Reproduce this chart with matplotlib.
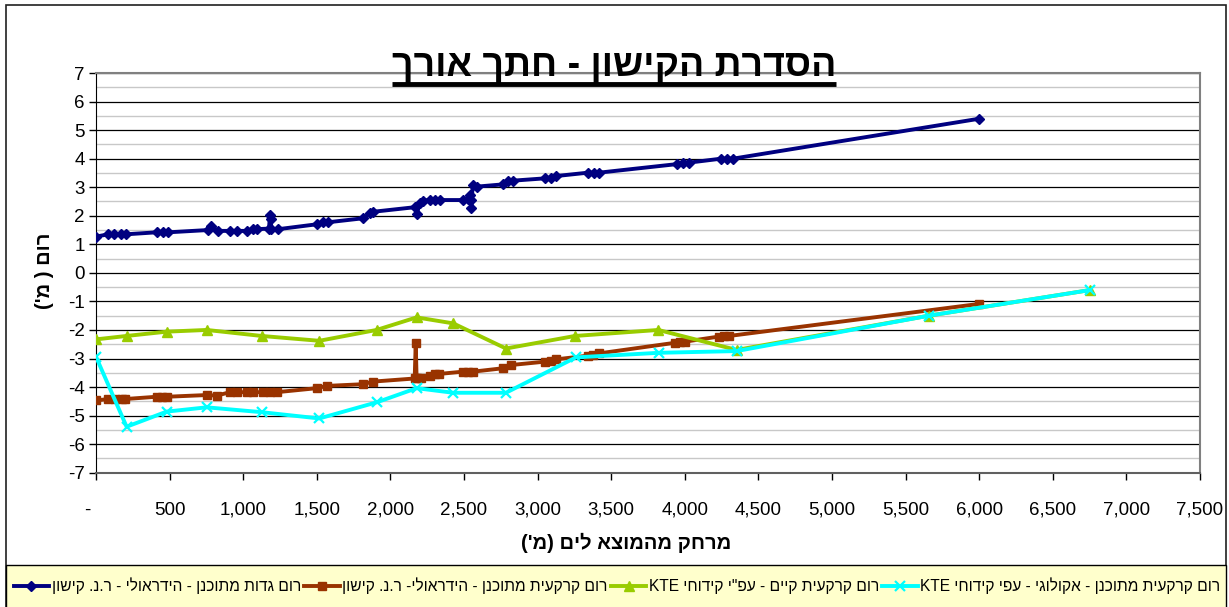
import re
import matplotlib
matplotlib.use('Agg')
import matplotlib.pyplot as plt
import matplotlib.transforms as mtransforms
from matplotlib.lines import Line2D
from matplotlib.patches import Rectangle
from matplotlib.ticker import FixedLocator, FixedFormatter, MultipleLocator

plt.rcParams['font.family'] = ['Liberation Sans Narrow', 'Liberation Sans', 'DejaVu Sans']

# --- data (distance from river mouth [m], elevation [m]) ---
banks_x = [0, 84, 125, 168, 204, 412, 453, 491, 763, 780, 831, 910, 956, 1024, 1069, 1092,
           1175, 1182, 1186, 1192, 1238, 1499, 1544, 1574, 1812, 1861, 1884, 2167, 2178, 2201,
           2219, 2269, 2303, 2337, 2495, 2529, 2544, 2547, 2550, 2559, 2586, 2767, 2801, 2835,
           3050, 3089, 3125, 3344, 3385, 3419, 3949, 3991, 4027, 4248, 4286, 4328, 6002]
banks_y = [1.27, 1.35, 1.35, 1.35, 1.35, 1.42, 1.42, 1.42, 1.50, 1.64, 1.47, 1.47, 1.47, 1.47, 1.53, 1.53,
           1.55, 2.02, 1.88, 1.55, 1.53, 1.70, 1.77, 1.77, 1.91, 2.08, 2.14, 2.30, 2.05, 2.44,
           2.53, 2.55, 2.55, 2.55, 2.55, 2.57, 2.73, 2.55, 2.26, 3.08, 3.02, 3.10, 3.22, 3.23,
           3.31, 3.31, 3.39, 3.51, 3.51, 3.51, 3.81, 3.86, 3.86, 4.00, 4.00, 4.00, 5.40]

hyd_bed_x = [0, 84, 129, 174, 197, 412, 446, 480, 752, 820, 910, 956, 1024, 1069, 1137, 1182,
             1228, 1499, 1567, 1816, 1879, 2165, 2172, 2178, 2205, 2269, 2303, 2332, 2495, 2529,
             2563, 2767, 2817, 3050, 3089, 3125, 3344, 3378, 3419, 3933, 3967, 4001, 4234, 4268,
             4302, 5997]
hyd_bed_y = [-4.47, -4.42, -4.42, -4.42, -4.42, -4.34, -4.34, -4.34, -4.28, -4.30, -4.18, -4.18,
             -4.18, -4.18, -4.18, -4.18, -4.18, -4.04, -3.96, -3.90, -3.81, -3.70, -2.45, -3.70,
             -3.68, -3.61, -3.54, -3.54, -3.46, -3.46, -3.46, -3.34, -3.23, -3.11, -3.08, -3.03,
             -2.90, -2.88, -2.82, -2.45, -2.43, -2.41, -2.23, -2.21, -2.21, -1.09]

exist_bed_x = [0, 208, 480, 752, 1125, 1517, 1906, 2178, 2427, 2785, 3254, 3820, 4352, 5658, 6756]
exist_bed_y = [-2.33, -2.21, -2.06, -2.00, -2.21, -2.38, -2.00, -1.56, -1.77, -2.65, -2.21,
               -2.00, -2.70, -1.50, -0.60]

eco_bed_x = [0, 208, 480, 752, 1125, 1517, 1910, 2178, 2427, 2785, 3261, 3826, 4352, 5658, 6756]
eco_bed_y = [-2.94, -5.39, -4.86, -4.71, -4.88, -5.10, -4.53, -4.04, -4.20, -4.20, -2.96,
             -2.80, -2.74, -1.50, -0.60]

series_names = ['רום גדות מתוכנן - הידראולי - ר.נ. קישון',
                'רום קרקעית מתוכנן - הידראולי- ר.נ. קישון',
                'רום קרקעית קיים - עפ"י קידוחי KTE',
                'רום קרקעית מתוכנן - אקולוגי - עפי קידוחי KTE']

title_text = 'הסדרת הקישון - חתך אורך'
ylabel_text = 'רום ( מ\')'
xlabel_text = 'מרחק מהמוצא לים (מ\')'

y_ticks = list(range(-7, 8))
x_ticks = list(range(0, 7501, 500))
x_ticklabels = ['-'] + [f'{v:,}' for v in x_ticks[1:]]


def heb(s):
    # matplotlib has no bidi: reverse for drawing, keep latin/digit runs, mirror brackets
    runs = re.findall(r'[A-Za-z0-9]+|.', s)
    return ''.join(reversed(runs)).translate(str.maketrans('()', ')('))


W, H = 1229, 607


def box(x0, y0, x1, y1):
    return [x0 / W, 1 - y1 / H, (x1 - x0) / W, (y1 - y0) / H]


fig = plt.figure(figsize=(W / 100, H / 100), dpi=100)
fig.patch.set_facecolor('white')

# chart frame and legend strip
fig.add_artist(Rectangle((6 / W, -0.01), 1220 / W, 1 - 5 / H + 0.01, transform=fig.transFigure,
                         facecolor='none', edgecolor='#202020', lw=1.2, zorder=0))
fig.add_artist(Rectangle((6 / W, -0.01), 1220 / W, 42 / H + 0.01, transform=fig.transFigure,
                         facecolor='#FFFFCC', edgecolor='black', lw=1.0, zorder=1))

ax = fig.add_axes(box(96, 73, 1200, 472.7))
ax.set_facecolor('white')

styles = [
    dict(color='#000080', marker='D', ms=5.5),
    dict(color='#993300', marker='s', ms=6),
    dict(color='#99CC00', marker='^', ms=7),
    dict(color='#00FFFF', marker='x', ms=7, mew=1.6),
]
data = [(banks_x, banks_y), (hyd_bed_x, hyd_bed_y), (exist_bed_x, exist_bed_y), (eco_bed_x, eco_bed_y)]
handles = []
for (xs, ys), st, name in zip(data, styles, series_names):
    h, = ax.plot(xs, ys, lw=2.8, zorder=3, label=heb(name), **st)
    handles.append(h)

ax.set_xlim(0, 7500)
ax.set_ylim(-7, 7)
ax.yaxis.set_major_locator(FixedLocator(y_ticks))
ax.yaxis.set_major_formatter(FixedFormatter([str(v) for v in y_ticks]))
ax.yaxis.set_minor_locator(MultipleLocator(0.5))
ax.xaxis.set_major_locator(FixedLocator(x_ticks))
ax.xaxis.set_major_formatter(FixedFormatter(x_ticklabels))

ax.grid(axis='y', which='minor', color='#C8C8C8', lw=1.0, zorder=0)
ax.grid(axis='y', which='major', color='#000000', lw=0.9, zorder=0)
ax.set_axisbelow(True)

ax.tick_params(axis='y', which='major', direction='out', length=5, width=1, labelsize=13.5, pad=3)
ax.tick_params(axis='x', which='major', direction='out', length=5, width=1, labelsize=13.5, pad=16)
ax.tick_params(which='minor', length=0)

for side in ['top', 'right']:
    ax.spines[side].set_color('#808080')
    ax.spines[side].set_linewidth(1.5)
ax.spines['left'].set_color('black')
ax.spines['bottom'].set_color('#606060')
ax.spines['bottom'].set_linewidth(1.5)

# Excel style "-" for zero sits a bit to the left
lab0 = ax.get_xticklabels()[0]
lab0.set_transform(lab0.get_transform() + mtransforms.ScaledTranslation(-9 / 100, 0, fig.dpi_scale_trans))

title = fig.text(614 / W, 1 - 76 / H, heb(title_text), ha='center', va='baseline',
                 fontsize=27, fontweight='bold')
fig.text(626 / W, 1 - 543 / H, heb(xlabel_text), ha='center', va='center',
         fontsize=14.5, fontweight='bold')
fig.text(45 / W, 1 - 271 / H, heb(ylabel_text), ha='center', va='center', rotation=90,
         fontsize=14.5, fontweight='bold')

fig.legend(handles=handles, loc='center', bbox_to_anchor=(617 / W, 1 - 586 / H), ncol=4,
           frameon=False, fontsize=11.2, handlelength=2.3, handletextpad=0.15, columnspacing=0.2,
           borderpad=0.1, borderaxespad=0.0)

# underline for the title
fig.canvas.draw()
bb = title.get_window_extent(fig.canvas.get_renderer())
uy = 1 - 84 / H
fig.add_artist(Line2D([bb.x0 / W, bb.x1 / W], [uy, uy], transform=fig.transFigure,
                      color='black', lw=3.5, solid_capstyle='butt'))

fig.savefig('out.png', dpi=100, facecolor='white')
